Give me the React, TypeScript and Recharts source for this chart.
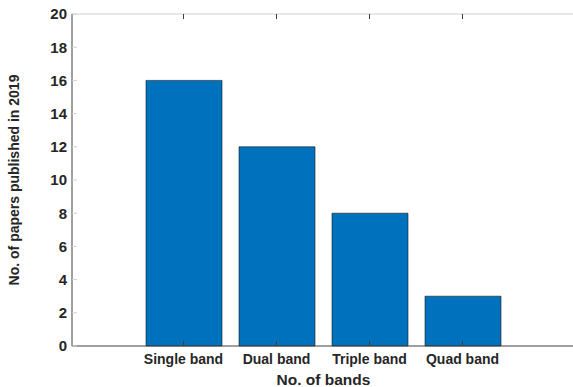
import React from "react";
import { BarChart, Bar, XAxis, YAxis, Label } from "recharts";

const categories = ["Single band", "Dual band", "Triple band", "Quad band"];
const papers = [16, 12, 8, 3];
const yTicks = [0, 2, 4, 6, 8, 10, 12, 14, 16, 18, 20];

const data = categories.map((name, i) => ({ name, papers: papers[i] }));

const font = "'Liberation Sans', Arial, Helvetica, sans-serif";
const ink = "#262626";

export default function App() {
  return (
    <div style={{ position: "absolute", left: 0, top: 0, width: 573, height: 387, overflow: "hidden", background: "#fff" }}>
      <BarChart
        width={592}
        height={387}
        data={data}
        margin={{ top: 13, right: 16, bottom: 0, left: 0 }}
        style={{ fontFamily: font }}
      >
        <XAxis
          xAxisId="bottom"
          dataKey="name"
          padding={{ left: 65, right: 66 }}
          axisLine={{ stroke: "#404040" }}
          tickLine={{ stroke: "#404040" }}
          tickSize={-5}
          tickMargin={13}
          tick={{ fill: ink, fontSize: 14, fontWeight: "bold" }}
          height={41}
        >
          <Label
            value="No. of bands"
            position="insideBottom"
            offset={2}
            style={{ fill: ink, fontSize: 15.5, fontWeight: "bold" }}
          />
        </XAxis>
        <XAxis
          xAxisId="top"
          orientation="top"
          dataKey="name"
          padding={{ left: 65, right: 66 }}
          axisLine={{ stroke: "#cfcfcf" }}
          tickLine={{ stroke: "#404040" }}
          tickSize={-5}
          tickFormatter={() => ""}
          height={1}
        />
        <YAxis
          yAxisId="left"
          domain={[0, 20]}
          ticks={yTicks}
          interval={0}
          width={72}
          axisLine={{ stroke: "#404040" }}
          tickLine={{ stroke: "#d0d0d0" }}
          tickSize={-5}
          tickMargin={10}
          tick={{ fill: ink, fontSize: 15, fontWeight: "bold" }}
        >
          <Label
            value="No. of papers published in 2019"
            angle={-90}
            position="insideLeft"
            offset={14}
            style={{ textAnchor: "middle", fill: ink, fontSize: 14, fontWeight: "bold" }}
          />
        </YAxis>
        <YAxis
          yAxisId="right"
          orientation="right"
          domain={[0, 20]}
          ticks={yTicks}
          width={1}
          axisLine={{ stroke: "#cfcfcf" }}
          tickLine={{ stroke: "#d0d0d0" }}
          tickSize={-5}
          tickFormatter={() => ""}
        />
        <Bar
          xAxisId="bottom"
          yAxisId="left"
          dataKey="papers"
          fill="#0072BD"
          stroke="#1a1a1a"
          strokeWidth={0.6}
          barSize={76}
          isAnimationActive={false}
        />
      </BarChart>
    </div>
  );
}
